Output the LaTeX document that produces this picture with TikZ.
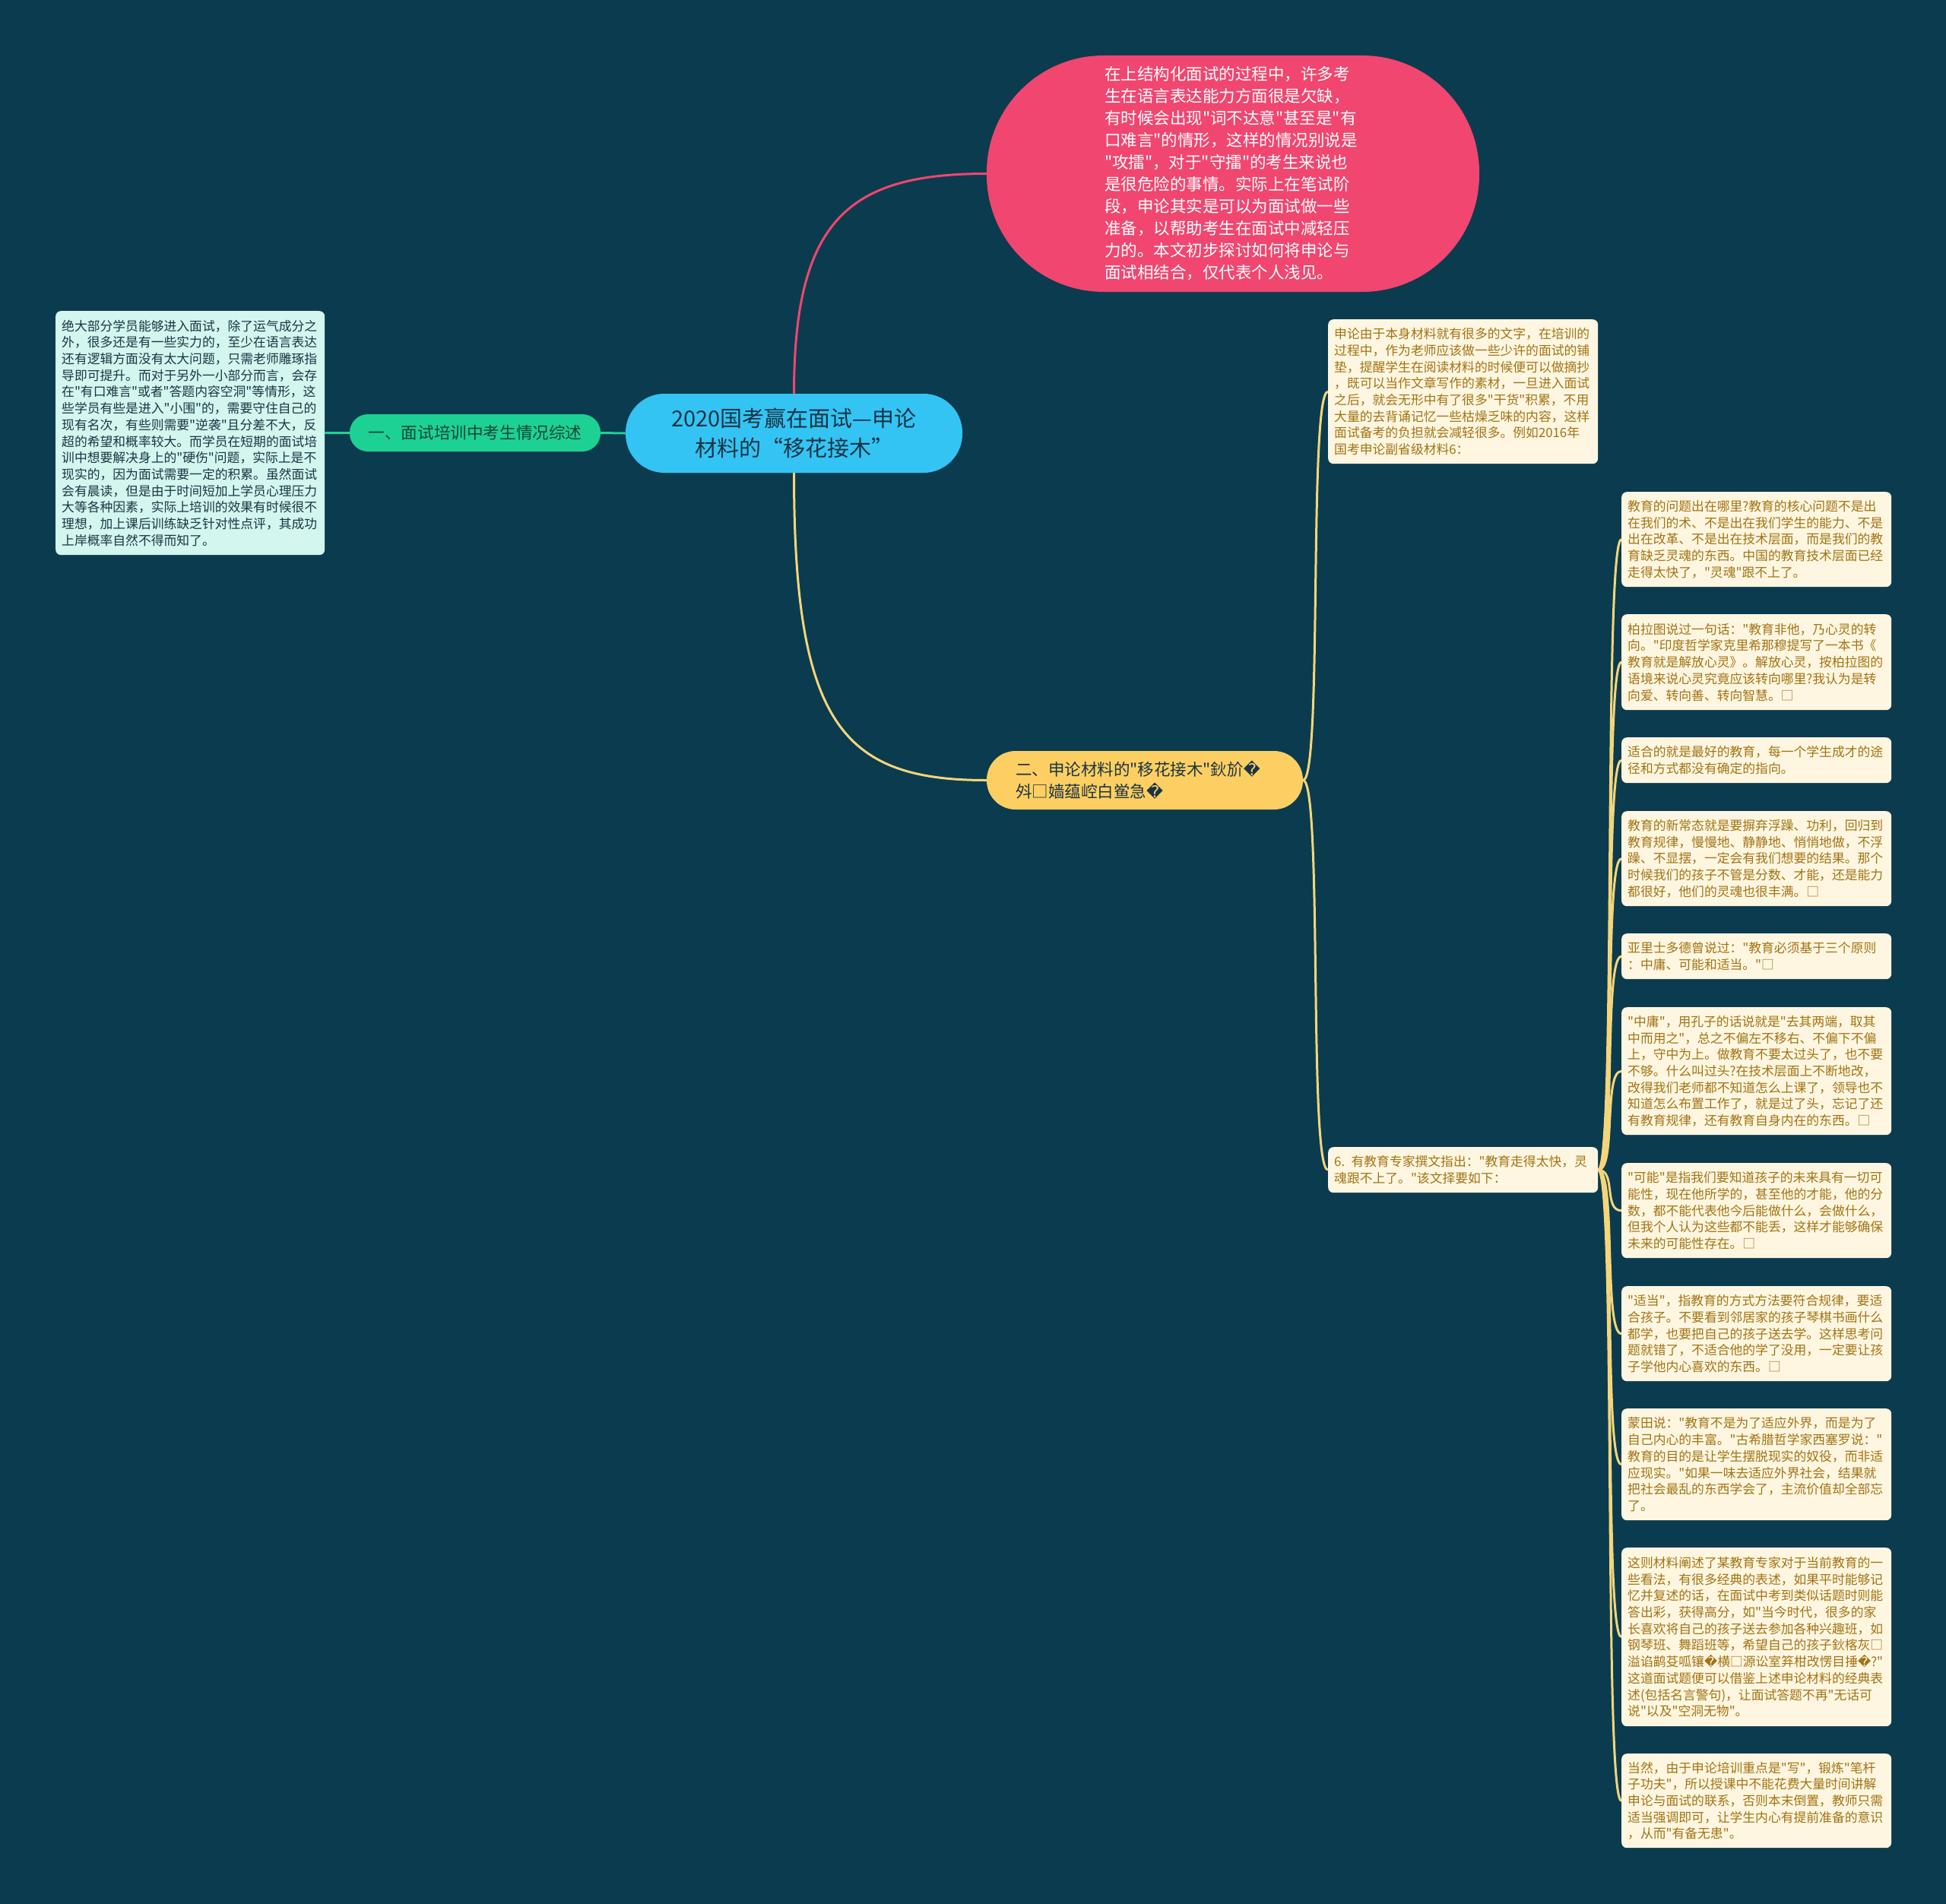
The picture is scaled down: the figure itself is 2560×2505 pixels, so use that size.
\documentclass[tikz,border=0pt]{standalone}
\usepackage{fontspec}
\newfontfamily\cjk{Noto Sans CJK SC}
\setmainfont{Noto Sans CJK SC}[Ligatures=TeXOff]
\newfontfamily\dv{DejaVu Sans}
\definecolor{bg}{HTML}{0B3B4E}
\definecolor{pinkc}{HTML}{F0466F}
\definecolor{bluec}{HTML}{33C4F4}
\definecolor{greenc}{HTML}{1DD194}
\definecolor{yellowc}{HTML}{FDCF62}
\definecolor{creamc}{HTML}{FEF6E0}
\definecolor{brownc}{HTML}{A17314}
\definecolor{mintc}{HTML}{D3F6EE}
\definecolor{darkc}{HTML}{1B3444}
\definecolor{greentext}{HTML}{15463B}
\definecolor{ylinec}{HTML}{F5D57A}
\pgfdeclarelayer{bgl}
\pgfsetlayers{bgl,main}
\tikzset{
  rootnode/.style={fill=bluec, rounded corners=51pt, minimum width=443pt, minimum height=104pt,
    align=center, text=darkc, inner sep=0pt, font=\cjk\fontsize{29}{39}\selectfont},
  pinknode/.style={fill=pinkc, rounded corners=154pt, minimum width=648pt, minimum height=311pt,
    text width=338pt, align=left, text=white, inner sep=0pt, font=\cjk\fontsize{21.5}{29}\selectfont},
  greennode/.style={fill=greenc, rounded corners=24pt, minimum width=330pt, minimum height=49pt,
    text=greentext, inner sep=0pt, font=\cjk\fontsize{21.6}{28}\selectfont},
  yellownode/.style={fill=yellowc, rounded corners=38pt, minimum width=416pt, minimum height=77pt,
    text width=340pt, align=left, text=darkc, inner sep=0pt, font=\cjk\fontsize{21.5}{29}\selectfont},
  leaf/.style={fill=creamc, text=brownc, rounded corners=7pt, inner xsep=8pt, inner ysep=6pt,
    text width=339pt, minimum width=355pt, align=left, anchor=north west,
    font=\cjk\fontsize{16.8}{21.7}\selectfont},
  mintbox/.style={leaf, fill=mintc, text=darkc, minimum width=354pt, text width=338pt},
  conn/.style={line width=3pt},
}
\begin{document}
\begin{tikzpicture}[x=1pt,y=-1pt]
\useasboundingbox (0,0) rectangle (2560,2505);

\node[rootnode] (root) at (1044.5,570) {2020国考赢在面试—申论\\材料的“移花接木”};

\node[pinknode] (pink) at (1622,228.5) {在上结构化面试的过程中，许多考\\生在语言表达能力方面很是欠缺，\\有时候会出现"词不达意"甚至是"有\\口难言"的情形，这样的情况别说是\\"攻擂"，对于"守擂"的考生来说也\\是很危险的事情。实际上在笔试阶\\段，申论其实是可以为面试做一些\\准备，以帮助考生在面试中减轻压\\力的。本文初步探讨如何将申论与\\面试相结合，仅代表个人浅见。};

\node[greennode] (g) at (625,569.5) {一、面试培训中考生情况综述};

\node[mintbox, minimum height=321pt] (lbox) at (73,409) {绝大部分学员能够进入面试，除了运气成分之\\外，很多还是有一些实力的，至少在语言表达\\还有逻辑方面没有太大问题，只需老师雕琢指\\导即可提升。而对于另外一小部分而言，会存\\在"有口难言"或者"答题内容空洞"等情形，这\\些学员有些是进入"小围"的，需要守住自己的\\现有名次，有些则需要"逆袭"且分差不大，反\\超的希望和概率较大。而学员在短期的面试培\\训中想要解决身上的"硬伤"问题，实际上是不\\现实的，因为面试需要一定的积累。虽然面试\\会有晨读，但是由于时间短加上学员心理压力\\大等各种因素，实际上培训的效果有时候很不\\理想，加上课后训练缺乏针对性点评，其成功\\上岸概率自然不得而知了。};

\node[yellownode] (yel) at (1506,1026.5) {二、申论材料的"移花接木"鈥斺{\dv �}\\斘□嫱蕴崆白鲎急{\dv �}};

\node[leaf, minimum height=190pt] (A) at (1747,420) {申论由于本身材料就有很多的文字，在培训的\\过程中，作为老师应该做一些少许的面试的铺\\垫，提醒学生在阅读材料的时候便可以做摘抄\\，既可以当作文章写作的素材，一旦进入面试\\之后，就会无形中有了很多"干货"积累，不用\\大量的去背诵记忆一些枯燥乏味的内容，这样\\面试备考的负担就会减轻很多。例如2016年\\国考申论副省级材料6：};

\node[leaf, minimum height=60pt] (six) at (1747,1509) {6. 有教育专家撰文指出："教育走得太快，灵\\魂跟不上了。"该文择要如下：};

\node[leaf, minimum height=125pt] (b1) at (2133,647) {教育的问题出在哪里?教育的核心问题不是出\\在我们的术、不是出在我们学生的能力、不是\\出在改革、不是出在技术层面，而是我们的教\\育缺乏灵魂的东西。中国的教育技术层面已经\\走得太快了，"灵魂"跟不上了。};
\node[leaf, minimum height=126pt] (b2) at (2133,808) {柏拉图说过一句话："教育非他，乃心灵的转\\向。"印度哲学家克里希那穆提写了一本书《\\教育就是解放心灵》。解放心灵，按柏拉图的\\语境来说心灵究竟应该转向哪里?我认为是转\\向爱、转向善、转向智慧。□};
\node[leaf, minimum height=60pt] (b3) at (2133,970) {适合的就是最好的教育，每一个学生成才的途\\径和方式都没有确定的指向。};
\node[leaf, minimum height=125pt] (b4) at (2133,1067) {教育的新常态就是要摒弃浮躁、功利，回归到\\教育规律，慢慢地、静静地、悄悄地做，不浮\\躁、不显摆，一定会有我们想要的结果。那个\\时候我们的孩子不管是分数、才能，还是能力\\都很好，他们的灵魂也很丰满。□};
\node[leaf, minimum height=60pt] (b5) at (2133,1228) {亚里士多德曾说过："教育必须基于三个原则\\：中庸、可能和适当。"□};
\node[leaf, minimum height=168pt] (b6) at (2133,1325) {"中庸"，用孔子的话说就是"去其两端，取其\\中而用之"，总之不偏左不移右、不偏下不偏\\上，守中为上。做教育不要太过头了，也不要\\不够。什么叫过头?在技术层面上不断地改，\\改得我们老师都不知道怎么上课了，领导也不\\知道怎么布置工作了，就是过了头，忘记了还\\有教育规律，还有教育自身内在的东西。□};
\node[leaf, minimum height=125pt] (b7) at (2133,1530) {"可能"是指我们要知道孩子的未来具有一切可\\能性，现在他所学的，甚至他的才能，他的分\\数，都不能代表他今后能做什么，会做什么，\\但我个人认为这些都不能丢，这样才能够确保\\未来的可能性存在。□};
\node[leaf, minimum height=125pt] (b8) at (2133,1692) {"适当"，指教育的方式方法要符合规律，要适\\合孩子。不要看到邻居家的孩子琴棋书画什么\\都学，也要把自己的孩子送去学。这样思考问\\题就错了，不适合他的学了没用，一定要让孩\\子学他内心喜欢的东西。□};
\node[leaf, minimum height=147pt] (b9) at (2133,1853) {蒙田说："教育不是为了适应外界，而是为了\\自己内心的丰富。"古希腊哲学家西塞罗说："\\教育的目的是让学生摆脱现实的奴役，而非适\\应现实。"如果一味去适应外界社会，结果就\\把社会最乱的东西学会了，主流价值却全部忘\\了。};
\node[leaf, minimum height=235pt] (b10) at (2133,2036) {这则材料阐述了某教育专家对于当前教育的一\\些看法，有很多经典的表述，如果平时能够记\\忆并复述的话，在面试中考到类似话题时则能\\答出彩，获得高分，如"当今时代，很多的家\\长喜欢将自己的孩子送去参加各种兴趣班，如\\钢琴班、舞蹈班等，希望自己的孩子鈥楁灰□\\溢谄鹋芟呱镶{\dv �}横□源讼室笲柑改愣目捶{\dv �}?"\\这道面试题便可以借鉴上述申论材料的经典表\\述(包括名言警句)，让面试答题不再"无话可\\说"以及"空洞无物"。};
\node[leaf, minimum height=124pt] (b11) at (2133,2307) {当然，由于申论培训重点是"写"，锻炼"笔杆\\子功夫"，所以授课中不能花费大量时间讲解\\申论与面试的联系，否则本末倒置，教师只需\\适当强调即可，让学生内心有提前准备的意识\\，从而"有备无患"。};

\begin{pgfonlayer}{bgl}
\fill[bg] (0,0) rectangle (2560,2505);
\draw[conn, pinkc] (root.north) .. controls +(0,-230) and +(-180,0) .. (pink.west);
\draw[conn, ylinec] (root.south) .. controls +(0,330) and +(-190,0) .. (yel.west);
\draw[conn, greenc] (root.west) -- (g.east);
\draw[conn, greenc] (g.west) -- (lbox.east);
\foreach \t in {A,six}
  \draw[conn, ylinec] (yel.east) .. controls +(26,0) and +(-26,0) .. (\t.west);
\foreach \t in {b1,b2,b3,b4,b5,b6,b7,b8,b9,b10,b11}
  \draw[conn, ylinec] (six.east) .. controls +(24,0) and +(-24,0) .. (\t.west);
\end{pgfonlayer}
\end{tikzpicture}
\end{document}
